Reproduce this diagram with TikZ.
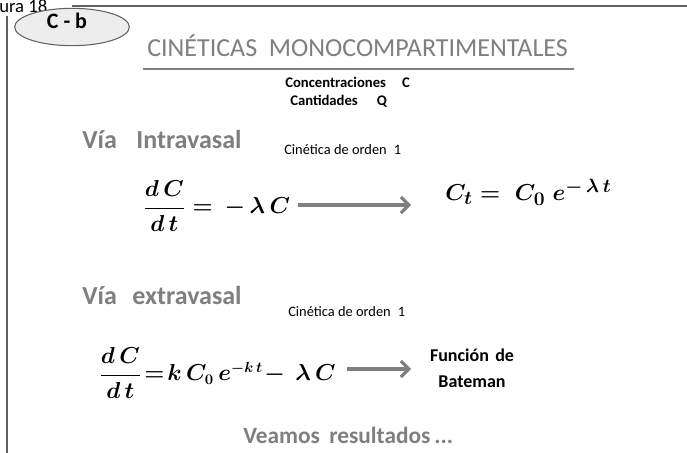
\documentclass[tikz,border=0pt]{standalone}
\usepackage{fontspec}
\setmainfont{Carlito}
\usepackage{amsmath}
\usetikzlibrary{arrows.meta,shapes.geometric}
\definecolor{titlegray}{HTML}{7F7F7F}
\definecolor{linegray}{HTML}{5F6360}
\definecolor{ellfill}{HTML}{EDEDED}
\begin{document}
\begin{tikzpicture}[x=0.75pt,y=-0.75pt,
  heading/.style={font=\fontsize{19.5}{22}\selectfont\bfseries, text=titlegray, inner sep=0pt},
  smalltxt/.style={font=\fontsize{10.8}{12}\selectfont, inner sep=0pt},
  smallbold/.style={font=\fontsize{11}{13}\selectfont\bfseries, inner sep=0pt},
  eqn/.style={font=\fontsize{16}{18}\selectfont\boldmath, inner sep=0pt},
  bigarrow/.style={titlegray, line width=2.5pt, -{Straight Barb[length=6pt,width=12pt,line width=2.3pt]}},
  frame/.style={linegray, line width=1.6pt}]
\useasboundingbox (0,0) rectangle (687,453);
\fill[white] (0,0) rectangle (687,453);
% frame
\coordinate (tl) at (72,6);
\coordinate (tr) at (690,6);
\coordinate (vt) at (7,16);
\coordinate (vb) at (7,453);
\draw[frame] (tl) -- (tr);
\draw[frame] (vt) -- (vb);
\node[anchor=base west, inner sep=0pt, font=\fontsize{14}{15}\selectfont] (fig) at (-1,13) {ura 18};
% ellipse label
\node[draw=linegray, fill=ellfill, line width=0.8pt, shape=ellipse, minimum width=86pt, minimum height=28pt, inner sep=0pt] (cb) at (72,27) {};
\node[font=\fontsize{16.5}{18}\selectfont\bfseries, inner sep=0pt] (cbt) at (67,21) {C - b};
% title
\node[anchor=base west, inner sep=0pt, font=\fontsize{19.5}{22}\selectfont, text=titlegray] (title) at (147,57) {CINÉTICAS\hspace{0.45em}MONOCOMPARTIMENTALES};
\coordinate (ul) at (143,69);
\coordinate (ur) at (574,69);
\draw[titlegray, line width=1.6pt] (ul) -- (ur);
\node[smallbold, anchor=base west] (conc) at (285,88) {Concentraciones\hspace{1.1em}C};
\node[smallbold, anchor=base west] (cant) at (290,106) {Cantidades\hspace{1.3em}Q};
% intravasal
\node[heading, anchor=base west] (intra) at (82,149) {Vía\hspace{0.75em}Intravasal};
\node[smalltxt, anchor=base west] (cin1) at (284,155) {Cinética de orden\hspace{0.5em}1};
\node[eqn, anchor=west] (eq1) at (143,206) {$\dfrac{d\,C}{d\,t} = \,-\,\lambda\,C$};
\node[eqn, font=\fontsize{19}{21}\selectfont\boldmath, anchor=base west] (sol1) at (445,201) {$C_t =\; C_0\; e^{-\,\lambda\,t}$};
\coordinate (a1s) at (298,205);
\coordinate (a1e) at (411,205);
\draw[bigarrow] (a1s) -- (a1e);
% extravasal
\node[heading, anchor=base west] (extra) at (82,305) {Vía\hspace{0.6em}extravasal};
\node[smalltxt, anchor=base west] (cin2) at (288,317) {Cinética de orden\hspace{0.5em}1};
\node[eqn, anchor=west] (eq2) at (99,373) {$\dfrac{d\,C}{d\,t}\!=\!k\,C_0\,e^{-k\,t}\!-\,\lambda\,C$};
\coordinate (a2s) at (347,369);
\coordinate (a2e) at (411,369);
\draw[bigarrow] (a2s) -- (a2e);
\node[font=\fontsize{13.5}{19.5}\selectfont\bfseries, align=center, inner sep=0pt] (bat) at (472,368) {Función\hspace{0.35em}de\\Bateman};
% footer
\node[heading, font=\fontsize{17.5}{20}\selectfont\bfseries, anchor=base west] (vea) at (243,444) {Veamos\hspace{0.4em}resultados\,...};
\end{tikzpicture}
\end{document}
